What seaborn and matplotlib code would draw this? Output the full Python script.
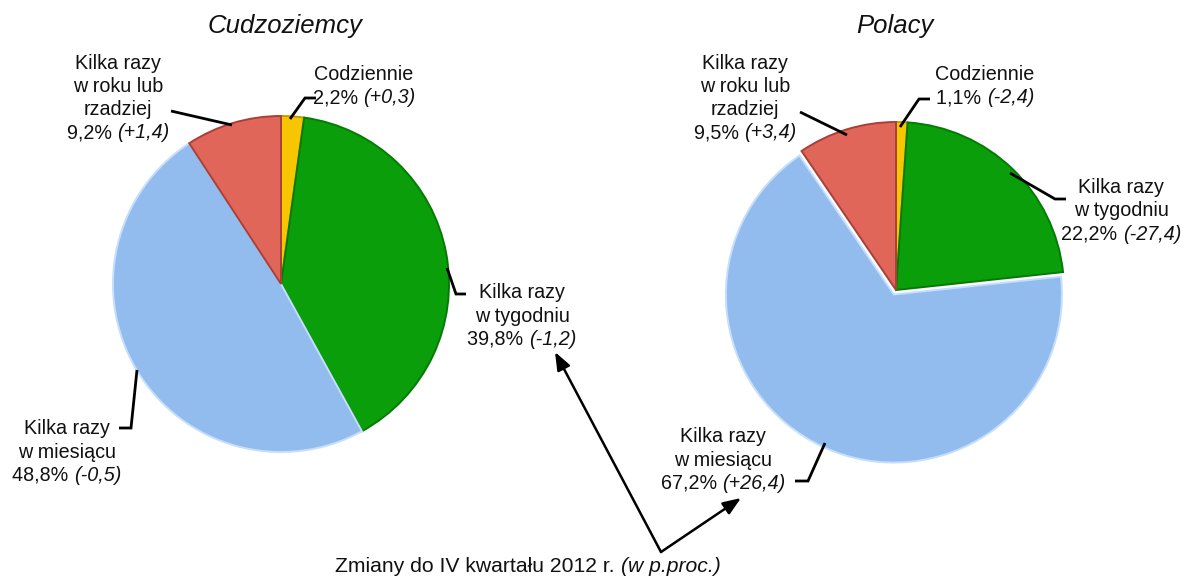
import matplotlib
matplotlib.use("Agg")
import matplotlib.pyplot as plt
import seaborn as sns
import numpy as np

sns.set_theme(style="white")
plt.rcParams['font.family'] = ['Liberation Sans', 'DejaVu Sans']

# ---------------- data ----------------
categories = ["Codziennie", "Kilka razy w tygodniu", "Kilka razy w miesiącu",
              "Kilka razy w roku lub rzadziej"]
foreigners = [2.2, 39.8, 48.8, 9.2]
foreigners_change = ["+0,3", "-1,2", "-0,5", "+1,4"]
poles = [1.1, 22.2, 67.2, 9.5]
poles_change = ["-2,4", "-27,4", "+26,4", "+3,4"]
titles = ["Cudzoziemcy", "Polacy"]
label_names = ["Codziennie", "Kilka razy\nw tygodniu", "Kilka razy\nw miesiącu",
               "Kilka razy\nw roku lub\nrzadziej"]
note = "Zmiany do IV kwartału 2012 r."
note_it = "(w p.proc.)"

colors = ["#F7C600", "#0A9F0A", "#92BBEE", "#E1665A"]
edge_colors = ["#C99A00", "#067A06", "#C4DEFC", "#A84038"]

W, H = 1183, 579
fig = plt.figure(figsize=(W / 100, H / 100), dpi=100)
ax = fig.add_axes([0, 0, 1, 1])
ax.set_xlim(0, W)
ax.set_ylim(0, H)
ax.set_aspect("equal")
ax.axis("off")


def py(y):
    return H - y


FS = 14.2
FS_NOTE = 15.2

pies = [
    dict(vals=foreigners, chg=foreigners_change, c=(281, 284), r=168, explode=[0, 0, 0, 0],
         title_xy=(285, 26),
         leaders=[
             [(290, 119), (305, 98), (316, 98)],
             [(447, 268), (456, 294), (466, 294)],
             [(137, 370), (131, 428), (119, 428)],
             [(232, 125), (171, 111)],
         ],
         text=[(364, 86, "center"), (522, 316, "center"), (67, 452, "center"), (118, 98, "center")]),
    dict(vals=poles, chg=poles_change, c=(896, 290), r=168, explode=[0, 0, 5, 0],
         title_xy=(895, 26),
         leaders=[
             [(900, 127), (919, 99), (930, 99)],
             [(1010, 173), (1055, 199), (1066, 199)],
             [(825, 443), (808, 481), (795, 481)],
             [(847, 135), (800, 112)],
         ],
         text=[(985, 86, "center"), (1121, 211, "center"), (723, 460, "center"), (745, 98, "center")]),
]

for p, title in zip(pies, titles):
    cx, cy = p["c"]
    wedges, _ = ax.pie(p["vals"], colors=colors, startangle=90, counterclock=False,
                       center=(cx, py(cy)), radius=p["r"], explode=p["explode"],
                       wedgeprops=dict(linewidth=1.4), frame=True)
    for w, ec in zip(wedges, edge_colors):
        w.set_edgecolor(ec)
    ax.text(p["title_xy"][0], py(p["title_xy"][1]), title, fontsize=18.5, style="italic",
            ha="center", va="center", color="#111111")
    for i in range(4):
        pts = p["leaders"][i]
        ax.plot([q[0] for q in pts], [py(q[1]) for q in pts], color="black", lw=2,
                solid_capstyle="butt", solid_joinstyle="miter")
        tx, ty, ha = p["text"][i]
        name = label_names[i]
        pct = f"{p['vals'][i]:.1f}".replace(".", ",") + "%"
        nlines = name.count("\n") + 2
        lh = 23.3
        top = ty - (nlines - 1) * lh / 2
        for j, line in enumerate(name.split("\n")):
            ax.text(tx, py(top + j * lh), line, fontsize=FS, ha="center", va="center",
                    color="#111111")
        yy = py(top + (nlines - 1) * lh)
        t1 = ax.text(tx, yy, pct + " ", fontsize=FS, ha="right", va="center", color="#111111")
        t2 = ax.text(tx, yy, "(" + p["chg"][i] + ")", fontsize=FS, ha="left", va="center",
                     style="italic", color="#111111")
        fig.canvas.draw()
        r = fig.canvas.get_renderer()
        w1 = t1.get_window_extent(r).width
        w2 = t2.get_window_extent(r).width
        shift = (w1 - w2) / 2
        t1.set_x(tx + shift)
        t2.set_x(tx + shift)

# bottom note
nx, ny = 528, 567
t1 = ax.text(nx, py(ny), note + " ", fontsize=FS_NOTE, ha="right", va="center", color="#111111")
t2 = ax.text(nx, py(ny), note_it, fontsize=FS_NOTE, ha="left", va="center", style="italic",
             color="#111111")
fig.canvas.draw()
r = fig.canvas.get_renderer()
w1 = t1.get_window_extent(r).width
w2 = t2.get_window_extent(r).width
t1.set_x(nx + (w1 - w2) / 2)
t2.set_x(nx + (w1 - w2) / 2)

# arrows
vx, vy = 661, 552
for tip in [(555, 352), (741, 498)]:
    ax.annotate("", xy=(tip[0], py(tip[1])), xytext=(vx, py(vy)),
                arrowprops=dict(arrowstyle="-|>,head_length=0.9,head_width=0.35",
                                color="black", lw=1.8, shrinkA=0, shrinkB=0))

ax.set_xlim(0, W)
ax.set_ylim(0, H)
ax.axis("off")
fig.savefig("out.png", dpi=100)
